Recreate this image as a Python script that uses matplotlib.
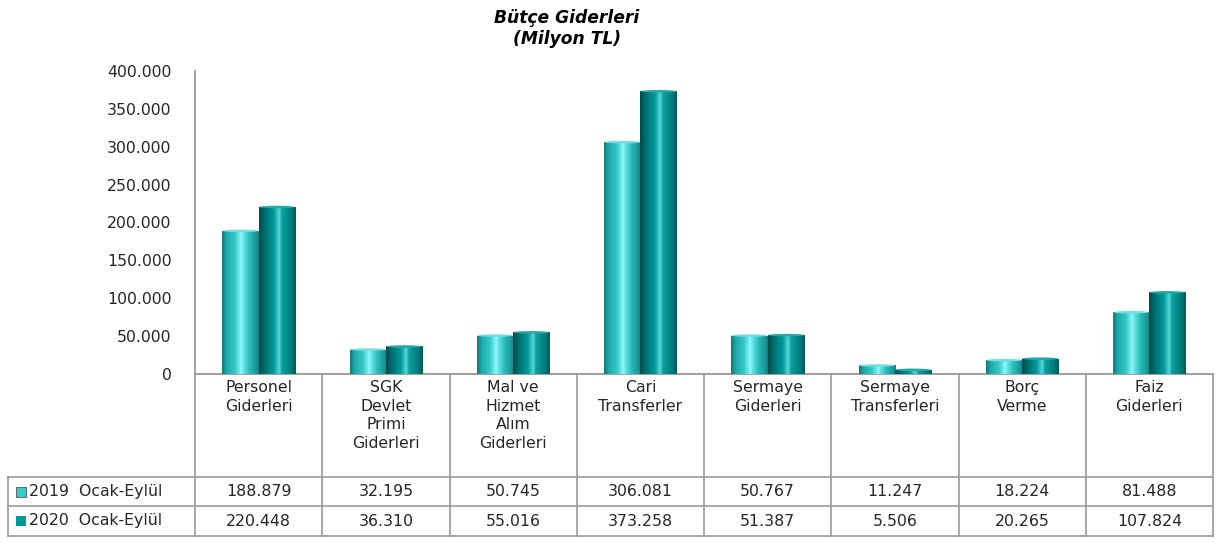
import numpy as np
import matplotlib
matplotlib.use("Agg")
import matplotlib.pyplot as plt
from matplotlib.colors import to_rgb
from matplotlib.patches import Ellipse, Rectangle
from matplotlib.ticker import FuncFormatter, MultipleLocator

# ---------------- data ----------------
categories = ["Personel\nGiderleri", "SGK\nDevlet\nPrimi\nGiderleri", "Mal ve\nHizmet\nAlım\nGiderleri",
              "Cari\nTransferler", "Sermaye\nGiderleri", "Sermaye\nTransferleri", "Borç\nVerme", "Faiz\nGiderleri"]
series_names = ["2019  Ocak-Eylül", "2020  Ocak-Eylül"]
values_2019 = [188879, 32195, 50745, 306081, 50767, 11247, 18224, 81488]
values_2020 = [220448, 36310, 55016, 373258, 51387, 5506, 20265, 107824]
title = "Bütçe Giderleri\n(Milyon TL)"

FONT = "DejaVu Sans"
plt.rcParams["font.family"] = [FONT]
FS = 11.3
TXT = "#262626"

W, H = 1216, 543
fig = plt.figure(figsize=(W / 100, H / 100), dpi=100)

ax_left, ax_right = 195, 1213
ax_top, ax_bottom = 71, 374
ax = fig.add_axes([ax_left / W, 1 - ax_bottom / H, (ax_right - ax_left) / W, (ax_bottom - ax_top) / H])

n = len(categories)
x = np.arange(n)
bw = 0.285

stops_2019 = [(0.0, "#137a7a"), (0.12, "#1fa8a8"), (0.35, "#35c9c9"), (0.52, "#8ff8f8"),
              (0.6, "#5ee0e0"), (0.75, "#2bbaba"), (0.92, "#1a9a9a"), (1.0, "#157f7f")]
stops_2020 = [(0.0, "#004a4a"), (0.15, "#006e6e"), (0.4, "#009a9a"), (0.55, "#5ad8d8"),
              (0.62, "#10a0a0"), (0.85, "#007f7f"), (1.0, "#005a5a")]
cap_colors = ["#6fdede", "#26a8a8"]


def gradient_img(stops, npx=64):
    ts = np.linspace(0, 1, npx)
    st = [s[0] for s in stops]
    cols = np.array([to_rgb(s[1]) for s in stops])
    img = np.stack([np.interp(ts, st, cols[:, k]) for k in range(3)], axis=-1)
    return img[np.newaxis, :, :]


series = [values_2019, values_2020]
offsets = [-bw / 2, bw / 2]
stops = [stops_2019, stops_2020]
cap_h = 2.5 * 400000 / (ax_bottom - ax_top)
for vals, off, st, capc in zip(series, offsets, stops, cap_colors):
    bars = ax.bar(x + off, vals, width=bw, color=to_rgb(st[3][1]), zorder=2, linewidth=0)
    img = gradient_img(st)
    for b in bars:
        x0, w, h = b.get_x(), b.get_width(), b.get_height()
        im = ax.imshow(img, extent=(x0, x0 + w, 0, h), aspect="auto", zorder=3, interpolation="bilinear")
        im.set_clip_path(b)
        ax.add_patch(Ellipse((x0 + w / 2, h), w * 0.98, cap_h, facecolor=capc, edgecolor="none", zorder=4))

ax.set_xlim(-0.5, n - 0.5)
ax.set_ylim(0, 400000)
ax.set_aspect("auto")
ax.yaxis.set_major_locator(MultipleLocator(50000))
ax.yaxis.set_major_formatter(FuncFormatter(lambda v, p: f"{int(v):,}".replace(",", ".")))
ax.tick_params(axis="y", length=0, pad=17, labelsize=FS, labelcolor=TXT)
ax.set_xticks([])
for s in ["top", "right"]:
    ax.spines[s].set_visible(False)
for s in ["left", "bottom"]:
    ax.spines[s].set_color("#999999")
    ax.spines[s].set_linewidth(1.3)

fig.text(567 / W, 1 - 9 / H, title, ha="center", va="top", fontsize=12.3, fontweight="bold",
         fontstyle="italic", linespacing=1.2)

# ---------------- table ----------------
def fy(py):
    return 1 - py / H

def fx(px):
    return px / W

row_top = 477
row_mid = 506
row_bot = 536
left_px = 8
col_w = (ax_right - ax_left) / n
lc = "#9a9a9a"
lw = 1.2

def hline(y, x0, x1):
    fig.add_artist(plt.Line2D([fx(x0), fx(x1)], [fy(y), fy(y)], color=lc, lw=lw))

def vline(xp, y0, y1):
    fig.add_artist(plt.Line2D([fx(xp), fx(xp)], [fy(y0), fy(y1)], color=lc, lw=lw))

for i in range(n + 1):
    xp = ax_left + i * col_w
    vline(xp, ax_bottom, row_bot)
vline(left_px, row_top, row_bot)
for yp in [row_top, row_mid, row_bot]:
    hline(yp, left_px, ax_right)

for i, cat in enumerate(categories):
    cx = ax_left + (i + 0.5) * col_w
    fig.text(fx(cx), fy(380), cat, ha="center", va="top", fontsize=FS, color=TXT, linespacing=1.3)

marker_cols = ["#33cccc", "#009999"]
for r, (name, vals) in enumerate(zip(series_names, series)):
    yc = (row_top + row_mid) / 2 if r == 0 else (row_mid + row_bot) / 2
    fig.add_artist(Rectangle((fx(16), fy(yc + 5)), 10 / W, 10 / H, facecolor=marker_cols[r],
                             edgecolor="#555555" if r == 0 else "none", lw=0.6, transform=fig.transFigure))
    fig.text(fx(29), fy(yc), name, ha="left", va="center", fontsize=FS, color=TXT)
    for i, v in enumerate(vals):
        cx = ax_left + (i + 0.5) * col_w
        fig.text(fx(cx), fy(yc), f"{v:,}".replace(",", "."), ha="center", va="center",
                 fontsize=FS, color=TXT)

fig.savefig("out.png", dpi=100)
